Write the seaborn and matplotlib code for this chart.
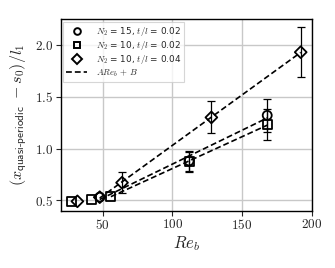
import matplotlib
matplotlib.use("Agg")
import matplotlib.pyplot as plt
from matplotlib.lines import Line2D
from matplotlib.ticker import FuncFormatter
import numpy as np
import pandas as pd
import seaborn as sns

# values
RE_N15_T02 = [48, 112, 168]
Y_N15_T02 = [0.53, 0.88, 1.32]
ERR_N15_T02 = [0.0, 0.10, 0.16]

RE_N10_T02 = [28, 42, 56, 112, 168]
Y_N10_T02 = [0.49, 0.51, 0.54, 0.87, 1.23]
ERR_N10_T02 = [0.0, 0.0, 0.0, 0.10, 0.15]

RE_N10_T04 = [32, 48, 64, 128, 192]
Y_N10_T04 = [0.49, 0.53, 0.67, 1.30, 1.93]
ERR_N10_T04 = [0.0, 0.0, 0.10, 0.155, 0.24]

LABELS = [
    r"$N_2$ = 15, $t/l$ = 0.02",
    r"$N_2$ = 10, $t/l$ = 0.02",
    r"$N_2$ = 10, $t/l$ = 0.04",
]
MARKERS = ["o", "s", "D"]
FIT_START = [48, 56, 48]

sns.set_style("ticks")
plt.rcParams["mathtext.fontset"] = "cm"
plt.rcParams["font.family"] = ["DejaVu Sans"]

series = [
    (RE_N15_T02, Y_N15_T02, ERR_N15_T02),
    (RE_N10_T02, Y_N10_T02, ERR_N10_T02),
    (RE_N10_T04, Y_N10_T04, ERR_N10_T04),
]

fig = plt.figure(figsize=(3.35, 2.68), dpi=100)
ax = fig.add_axes([0.181, 0.214, 0.750, 0.715])
ax.grid(True, color="#c8c8c8", linewidth=1.0, zorder=0)
ax.set_axisbelow(True)

for (re, y, err), label, marker, x0 in zip(series, LABELS, MARKERS, FIT_START):
    re = np.array(re, dtype=float)
    y = np.array(y)
    err = np.array(err)
    df = pd.DataFrame({"Re": re, "y": y})

    # linear fit A*Re + B over the upper range
    keep = re >= x0
    A, B = np.polyfit(re[keep], y[keep], 1)
    fit = pd.DataFrame({"Re": [re[keep].min(), re[keep].max()]})
    fit["y"] = A * fit["Re"] + B
    sns.lineplot(data=fit, x="Re", y="y", ax=ax, color="black",
                 linestyle=(0, (3.5, 1.8)), linewidth=1.2, zorder=3)

    has = err > 0
    ax.errorbar(re[has], y[has], yerr=err[has], fmt="none", ecolor="black",
                elinewidth=0.9, capsize=3, capthick=0.9, zorder=4)

    ms = 42 if marker != "D" else 36
    sns.scatterplot(data=df, x="Re", y="y", ax=ax, marker=marker, s=ms,
                    facecolor="none", edgecolor="black", linewidth=1.3,
                    zorder=5)

ax.set_xlim(20, 200)
ax.set_ylim(0.4, 2.25)
ax.set_xticks([50, 100, 150, 200])
ax.set_yticks([0.5, 1.0, 1.5, 2.0])
ax.xaxis.set_major_formatter(FuncFormatter(lambda v, p: f"${v:g}$"))
ax.yaxis.set_major_formatter(FuncFormatter(lambda v, p: f"${v:.1f}$"))
ax.tick_params(labelsize=9.5, length=3.5, width=0.8, pad=2)
for s in ax.spines.values():
    s.set_linewidth(1.0)
    s.set_color("black")

ax.set_xlabel(r"$Re_b$", fontsize=12, labelpad=1)
ax.set_ylabel(r"$(x_{\mathsf{quasi}\text{-}\mathsf{periodic}}\ - s_0)/l_1$",
              fontsize=11.5, labelpad=4)

handles = [
    Line2D([], [], marker=m, linestyle="none", markerfacecolor="none",
           markeredgecolor="black", markeredgewidth=1.4, markersize=4.8)
    for m in MARKERS
]
handles.append(Line2D([], [], color="black", linestyle=(0, (3.5, 1.8)), linewidth=1.2))
labels = LABELS + [r"$ARe_b\,+\,B$"]
leg = ax.legend(handles, labels, loc="upper left", fontsize=6.4, frameon=True,
                fancybox=False, borderaxespad=0.3, handlelength=2.3,
                labelspacing=0.12, borderpad=0.35, handletextpad=1.0)
leg.get_frame().set_edgecolor("#cccccc")
leg.get_frame().set_linewidth(0.8)

fig.savefig("out.png", dpi=100)
